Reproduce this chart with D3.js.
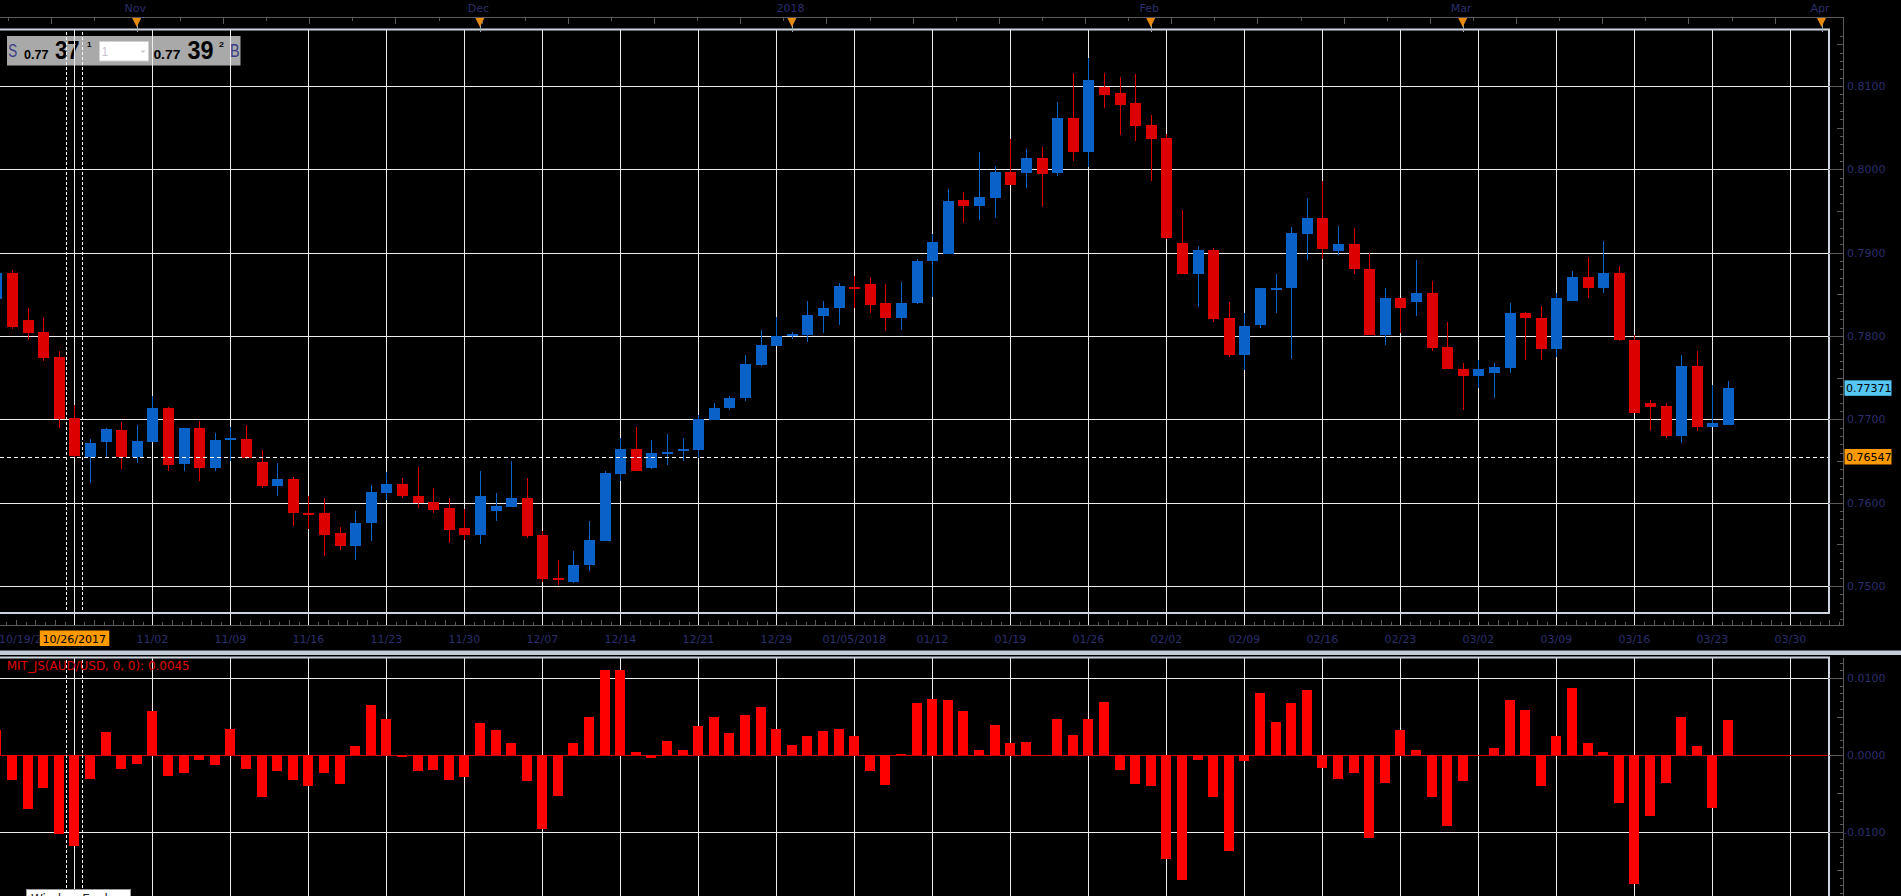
<!DOCTYPE html>
<html><head><meta charset="utf-8">
<script src="https://cdn.jsdelivr.net/npm/d3@7"></script>
<style>
html,body{margin:0;padding:0;background:#000;overflow:hidden}
svg{display:block}
</style></head><body>
<svg id="c" width="1901" height="896"></svg>
<script>
// ---------- DATA ----------
const dates = [
"10/19/2017","10/20/2017","10/23/2017","10/24/2017","10/25/2017","10/26/2017","10/27/2017","10/30/2017","10/31/2017",
"11/01/2017","11/02/2017","11/03/2017","11/06/2017","11/07/2017","11/08/2017","11/09/2017","11/10/2017","11/13/2017","11/14/2017","11/15/2017","11/16/2017","11/17/2017","11/20/2017","11/21/2017","11/22/2017","11/23/2017","11/24/2017","11/27/2017","11/28/2017","11/29/2017","11/30/2017",
"12/01/2017","12/04/2017","12/05/2017","12/06/2017","12/07/2017","12/08/2017","12/11/2017","12/12/2017","12/13/2017","12/14/2017","12/15/2017","12/18/2017","12/19/2017","12/20/2017","12/21/2017","12/22/2017","12/26/2017","12/27/2017","12/28/2017","12/29/2017",
"01/01/2018","01/02/2018","01/03/2018","01/04/2018","01/05/2018","01/08/2018","01/09/2018","01/10/2018","01/11/2018","01/12/2018","01/15/2018","01/16/2018","01/17/2018","01/18/2018","01/19/2018","01/22/2018","01/23/2018","01/24/2018","01/25/2018","01/26/2018","01/29/2018","01/30/2018","01/31/2018",
"02/01/2018","02/02/2018","02/05/2018","02/06/2018","02/07/2018","02/08/2018","02/09/2018","02/12/2018","02/13/2018","02/14/2018","02/15/2018","02/16/2018","02/19/2018","02/20/2018","02/21/2018","02/22/2018","02/23/2018","02/26/2018","02/27/2018","02/28/2018",
"03/01/2018","03/02/2018","03/05/2018","03/06/2018","03/07/2018","03/08/2018","03/09/2018","03/12/2018","03/13/2018","03/14/2018","03/15/2018","03/16/2018","03/19/2018","03/20/2018","03/21/2018","03/22/2018","03/23/2018","03/26/2018","03/27/2018","03/28/2018","03/29/2018","03/30/2018",
"04/02/2018","04/03/2018"];

const open = [
0.7844,0.7876,0.7819,0.7805,0.7775,0.7702,0.7655,0.7673,0.7687,0.7655,
0.7673,0.7713,0.7646,0.7690,0.7641,0.7675,0.7676,0.7649,0.7620,0.7628,
0.7588,0.7587,0.7564,0.7548,0.7575,0.7611,0.7622,0.7608,0.7601,0.7593,
0.7569,0.7561,0.7590,0.7595,0.7605,0.7561,0.7509,0.7505,0.7525,0.7554,
0.7634,0.7664,0.7642,0.7659,0.7662,0.7663,0.7699,0.7713,0.7725,0.7765,
0.7788,0.7800,0.7801,0.7824,0.7833,0.7859,0.7862,0.7839,0.7821,0.7839,
0.7890,0.7898,0.7963,0.7956,0.7965,0.7997,0.7996,0.8014,0.7995,0.8061,
0.8021,0.8099,0.8091,0.8079,0.8053,0.8038,0.7912,0.7874,0.7903,0.7821,
0.7777,0.7813,0.7856,0.7857,0.7922,0.7941,0.7902,0.7910,0.7880,0.7801,
0.7845,0.7841,0.7851,0.7787,0.7760,0.7752,0.7756,0.7762,0.7827,0.7822,
0.7784,0.7842,0.7871,0.7857,0.7876,0.7795,0.7719,0.7716,0.7680,0.7764,
0.7691,0.7693];
const high = [
0.7880,0.7879,0.7833,0.7823,0.7782,0.7717,0.7676,0.7690,0.7697,0.7693,
0.7728,0.7715,0.7690,0.7698,0.7683,0.7691,0.7693,0.7663,0.7648,0.7631,
0.7608,0.7605,0.7571,0.7590,0.7621,0.7637,0.7630,0.7643,0.7617,0.7606,
0.7592,0.7638,0.7611,0.7650,0.7630,0.7566,0.7531,0.7542,0.7578,0.7638,
0.7678,0.7691,0.7675,0.7682,0.7678,0.7705,0.7719,0.7728,0.7777,0.7807,
0.7823,0.7805,0.7842,0.7842,0.7863,0.7872,0.7871,0.7862,0.7865,0.7892,
0.7922,0.7976,0.7973,0.8021,0.8004,0.8036,0.8024,0.8027,0.8081,0.8115,
0.8134,0.8115,0.8111,0.8114,0.8065,0.8042,0.7951,0.7908,0.7906,0.7841,
0.7828,0.7857,0.7874,0.7931,0.7965,0.7986,0.7932,0.7930,0.7900,0.7857,
0.7845,0.7891,0.7866,0.7817,0.7768,0.7771,0.7768,0.7839,0.7829,0.7836,
0.7851,0.7878,0.7895,0.7914,0.7884,0.7801,0.7723,0.7719,0.7777,0.7782,
0.7741,0.7746];
const low = [
0.7838,0.7808,0.7795,0.7770,0.7690,0.7655,0.7623,0.7655,0.7640,0.7648,
0.7673,0.7638,0.7638,0.7626,0.7638,0.7650,0.7652,0.7617,0.7608,0.7572,
0.7568,0.7536,0.7543,0.7531,0.7554,0.7603,0.7605,0.7593,0.7588,0.7552,
0.7555,0.7550,0.7578,0.7595,0.7558,0.7505,0.7501,0.7504,0.7518,0.7554,
0.7626,0.7638,0.7640,0.7645,0.7650,0.7653,0.7699,0.7711,0.7722,0.7764,
0.7788,0.7796,0.7793,0.7804,0.7813,0.7833,0.7827,0.7806,0.7807,0.7838,
0.7847,0.7898,0.7936,0.7939,0.7941,0.7981,0.7977,0.7955,0.7992,0.8010,
0.8003,0.8073,0.8041,0.8034,0.7986,0.7916,0.7874,0.7835,0.7817,0.7775,
0.7759,0.7809,0.7827,0.7772,0.7891,0.7892,0.7897,0.7874,0.7801,0.7789,
0.7804,0.7824,0.7782,0.7760,0.7711,0.7737,0.7725,0.7756,0.7771,0.7771,
0.7775,0.7842,0.7845,0.7851,0.7794,0.7707,0.7686,0.7678,0.7672,0.7686,
0.7691,0.7693];
const close = [
0.7876,0.7811,0.7804,0.7774,0.7700,0.7656,0.7672,0.7688,0.7655,0.7674,
0.7713,0.7645,0.7690,0.7641,0.7675,0.7677,0.7654,0.7620,0.7628,0.7587,
0.7587,0.7561,0.7548,0.7576,0.7613,0.7622,0.7608,0.7599,0.7591,0.7567,
0.7561,0.7608,0.7596,0.7605,0.7560,0.7508,0.7508,0.7525,0.7555,0.7636,
0.7664,0.7638,0.7660,0.7661,0.7664,0.7700,0.7713,0.7725,0.7766,0.7789,
0.7800,0.7802,0.7825,0.7833,0.7860,0.7857,0.7837,0.7821,0.7839,0.7890,
0.7913,0.7962,0.7956,0.7967,0.7997,0.7981,0.8014,0.7994,0.8061,0.8021,
0.8107,0.8089,0.8077,0.8052,0.8036,0.7918,0.7874,0.7903,0.7820,0.7777,
0.7812,0.7857,0.7858,0.7924,0.7941,0.7904,0.7910,0.7880,0.7801,0.7845,
0.7833,0.7851,0.7786,0.7760,0.7752,0.7760,0.7763,0.7827,0.7821,0.7784,
0.7845,0.7871,0.7857,0.7876,0.7795,0.7707,0.7715,0.7680,0.7764,0.7691,
0.7695,0.7737];
const mit = [
0.0032,-0.0033,-0.0071,-0.0043,-0.0103,-0.0119,-0.0031,0.0030,-0.0018,-0.0012,
0.0057,-0.0028,-0.0023,-0.0006,-0.0013,0.0034,-0.0018,-0.0055,-0.0021,-0.0033,
-0.0041,-0.0024,-0.0038,0.0012,0.0065,0.0047,-0.0003,-0.0021,-0.0020,-0.0033,
-0.0029,0.0041,0.0033,0.0015,-0.0034,-0.0097,-0.0054,0.0016,0.0049,0.0111,
0.0110,0.0004,-0.0004,0.0018,0.0006,0.0038,0.0049,0.0028,0.0052,0.0063,
0.0034,0.0013,0.0025,0.0031,0.0034,0.0025,-0.0021,-0.0039,0.0001,0.0068,
0.0073,0.0072,0.0057,0.0006,0.0039,0.0015,0.0017,0.0000,0.0047,0.0026,
0.0047,0.0069,-0.0020,-0.0038,-0.0041,-0.0135,-0.0163,-0.0007,-0.0055,-0.0125,
-0.0008,0.0080,0.0043,0.0067,0.0084,-0.0017,-0.0031,-0.0023,-0.0108,-0.0036,
0.0033,0.0007,-0.0055,-0.0092,-0.0034,0.0000,0.0009,0.0071,0.0059,-0.0041,
0.0024,0.0087,0.0015,0.0004,-0.0062,-0.0168,-0.0080,-0.0036,0.0049,0.0011,
-0.0069,0.0045];

const tickDates = ["10/19/2017","10/26/2017","11/02/2017","11/09/2017","11/16/2017","11/23/2017","11/30/2017","12/07/2017","12/14/2017","12/21/2017","12/29/2017","01/05/2018","01/12/2018","01/19/2018","01/26/2018","02/02/2018","02/09/2018","02/16/2018","02/23/2018","03/02/2018","03/09/2018","03/16/2018","03/23/2018","03/30/2018"];
const tickLabels = ["10/19/2017","10/26","11/02","11/09","11/16","11/23","11/30","12/07","12/14","12/21","12/29","01/05/2018","01/12","01/19","01/26","02/02","02/09","02/16","02/23","03/02","03/09","03/16","03/23","03/30"];
const monthDates = ["11/01/2017","12/01/2017","01/01/2018","02/01/2018","03/01/2018","04/03/2018"];
const monthLabels = ["Nov","Dec","2018","Feb","Mar","Apr"];
const priceTicks = [0.75,0.76,0.77,0.78,0.79,0.80,0.81];
const mitTicks = [-0.01,0,0.01];
const lastQuote = 0.77371;
const crossQuote = 0.76547;
const crossDate = "10/26/2017";
const indicatorName = "MIT_JS(AUD/USD, 0, 0)";

// ---------- LAYOUT ----------
const W = 1901, H = 896;
const R = 1829, TOP = 29.5, BOT = 613, AX = 1843.5, RUL_T = 17.5, RUL_B = 625.5, LTOP = 657.5;
const FONT = "DejaVu Sans, Verdana, sans-serif";
const NAVY = "#2c2e6c", GRID = "#ececec", FRAME = "#cdd4de", AXC = "#5a5a5a";
const RED = "#dc0000", BLUE = "#0a62c8", BAR = "#ff0000";

const svg = d3.select("#c");
const x = d3.scalePoint().domain(dates).range([-3.7, 1821.5]);
const y = d3.scaleLinear().domain([0.75, 0.81]).range([585.9, 85.9]);
const y2 = d3.scaleLinear().domain([-0.01, 0.01]).range([831.7, 678.1]);
const px = v => Math.round(v) + 0.5;
const cx = x(crossDate);

svg.append("rect").attr("width", W).attr("height", H).attr("fill", "#000");

const defs = svg.append("defs");
defs.append("clipPath").attr("id", "cm").append("rect").attr("x", 0).attr("y", TOP + 1).attr("width", R - 1).attr("height", BOT - TOP - 2);
defs.append("clipPath").attr("id", "cl").append("rect").attr("x", 0).attr("y", LTOP + 1).attr("width", R - 1).attr("height", H - LTOP);
defs.append("clipPath").attr("id", "cfirst").append("rect").attr("x", 0).attr("y", 626).attr("width", cx - 35).attr("height", 24);

// ---------- quote box ----------
const qb = svg.append("g");
qb.append("rect").attr("x", 7).attr("y", 36).attr("width", 233.5).attr("height", 29.5).attr("fill", "#a9a9a9");
function qt(t, xx, yy, size, opts) {
  const e = qb.append("text").attr("x", xx).attr("y", yy).text(t)
    .attr("font-family", opts.family || "Liberation Sans, Arial, sans-serif")
    .attr("font-size", size).attr("font-weight", opts.bold ? "bold" : "normal")
    .attr("fill", opts.fill || "#000");
  if (opts.len) e.attr("textLength", opts.len).attr("lengthAdjust", "spacingAndGlyphs");
  return e;
}
qt("S", 8.3, 56.5, 18, {fill: "#3b3c86", len: 9});
qt("0.77", 24, 59.3, 13, {bold: true, len: 24.5});
qt("37", 55, 59.3, 26, {bold: true, len: 24.6});
qt("1", 87, 47, 8, {bold: true, len: 4.5});
qb.append("rect").attr("x", 99.5).attr("y", 41.5).attr("width", 49).attr("height", 19.5).attr("fill", "#fff").attr("stroke", "#d0d0d0");
qt("1", 101.5, 56, 12, {fill: "#cbc3d3"});
qb.append("path").attr("d", "M140.5,50.5 L145.5,50.5 L143,53 Z").attr("fill", "#c8c8c8");
qt("0.77", 153.4, 59.3, 13, {bold: true, len: 27});
qt("39", 187.4, 59.3, 26, {bold: true, len: 26});
qt("2", 219, 47, 8, {bold: true, len: 5});
qt("B", 230, 56.5, 18, {fill: "#3b3c86", len: 9.6});

// ---------- gridlines ----------
const grid = svg.append("g").attr("shape-rendering", "crispEdges");
grid.selectAll(".hg").data(priceTicks).join("line")
  .attr("x1", 0).attr("x2", R).attr("y1", d => px(y(d))).attr("y2", d => px(y(d)))
  .attr("stroke", GRID).attr("stroke-width", 1);
grid.selectAll(".vg").data(tickDates).join("line")
  .attr("x1", d => px(x(d))).attr("x2", d => px(x(d))).attr("y1", TOP).attr("y2", RUL_B)
  .attr("stroke", GRID).attr("stroke-width", 1);
grid.selectAll(".hg2").data(mitTicks.filter(d => d !== 0)).join("line")
  .attr("x1", 0).attr("x2", R).attr("y1", d => px(y2(d))).attr("y2", d => px(y2(d)))
  .attr("stroke", GRID).attr("stroke-width", 1);
grid.selectAll(".vg2").data(tickDates).join("line")
  .attr("x1", d => px(x(d))).attr("x2", d => px(x(d))).attr("y1", LTOP).attr("y2", H)
  .attr("stroke", GRID).attr("stroke-width", 1);
grid.append("line").attr("x1", 0).attr("x2", R).attr("y1", px(y2(0))).attr("y2", px(y2(0)))
  .attr("stroke", "#d00000").attr("stroke-width", 1);

// ---------- candles ----------
const cData = open.map((o, i) => ({d: dates[i], o, h: high[i], l: low[i], c: close[i]}));
const cg = svg.append("g").attr("clip-path", "url(#cm)").attr("shape-rendering", "crispEdges");
const col = d => d.c >= d.o ? BLUE : RED;
cg.selectAll(".wick").data(cData).join("line")
  .attr("x1", d => px(x(d.d))).attr("x2", d => px(x(d.d)))
  .attr("y1", d => y(d.h)).attr("y2", d => y(d.l))
  .attr("stroke", col).attr("stroke-width", 1);
cg.selectAll(".body").data(cData).join("rect")
  .attr("x", d => Math.round(x(d.d)) - 5).attr("width", 11)
  .attr("y", d => Math.min(y(d.o), y(d.c)))
  .attr("height", d => Math.max(2, Math.abs(y(d.o) - y(d.c))))
  .attr("fill", col);

// ---------- indicator bars ----------
const bData = mit.map((v, i) => ({d: dates[i], v}));
const bg = svg.append("g").attr("clip-path", "url(#cl)").attr("shape-rendering", "crispEdges");
bg.selectAll("rect").data(bData).join("rect")
  .attr("x", d => Math.round(x(d.d)) - 5).attr("width", 10)
  .attr("y", d => Math.min(y2(0), y2(d.v)))
  .attr("height", d => Math.abs(y2(d.v) - y2(0)))
  .attr("fill", BAR);

// ---------- crosshair ----------
const ch = svg.append("g").attr("shape-rendering", "crispEdges");
[-8, 8].forEach(o => {
  ch.append("line").attr("x1", px(cx + o)).attr("x2", px(cx + o)).attr("y1", TOP + 2).attr("y2", BOT)
    .attr("stroke", "#fff").attr("stroke-dasharray", "3,2");
  ch.append("line").attr("x1", px(cx + o)).attr("x2", px(cx + o)).attr("y1", LTOP + 2).attr("y2", H)
    .attr("stroke", "#fff").attr("stroke-dasharray", "3,2");
});
ch.append("line").attr("x1", 0).attr("x2", R).attr("y1", px(y(crossQuote))).attr("y2", px(y(crossQuote)))
  .attr("stroke", "#fff").attr("stroke-dasharray", "4,3");

// ---------- frames ----------
const fr = svg.append("g").attr("fill", "none").attr("stroke", FRAME).attr("stroke-width", 2);
fr.append("path").attr("d", `M0,${TOP} H${R} V${BOT} H0`);
fr.append("path").attr("d", `M0,${LTOP} H${R} V${H}`);
svg.append("rect").attr("x", 0).attr("y", 650.5).attr("width", W).attr("height", 4.5).attr("fill", "#c3cbd6");

// ---------- rulers ----------
const ax = svg.append("g").attr("shape-rendering", "crispEdges");
ax.append("path").attr("d", `M0,${RUL_T} H${AX} V${RUL_B} H0`).attr("fill", "none").attr("stroke", AXC);
ax.append("line").attr("x1", AX).attr("x2", AX).attr("y1", LTOP).attr("y2", H).attr("stroke", AXC);

// top ruler ticks
const topTicks = d3.range(0, 43).map(j => ({j, xx: 7.5 + 43.1 * j})).filter(t => t.xx < AX);
ax.selectAll(".tt").data(topTicks).join("line")
  .attr("x1", t => px(t.xx)).attr("x2", t => px(t.xx)).attr("y1", RUL_T)
  .attr("y2", t => RUL_T + (t.j % 2 ? 6 : 3)).attr("stroke", AXC);

// month markers
const mk = svg.append("g");
monthDates.forEach((d, i) => {
  const mx = x(d);
  mk.append("line").attr("x1", px(mx)).attr("x2", px(mx)).attr("y1", 18).attr("y2", 32).attr("stroke", "#9aa3b0");
  mk.append("path").attr("d", `M${mx - 4.5},18 L${mx + 4.5},18 L${mx + 2},23 L${mx},27 L${mx - 2},23 Z`).attr("fill", "#e58a0c");
  mk.append("text").attr("x", mx - 1.5).attr("y", 12).attr("text-anchor", "middle")
    .attr("font-family", FONT).attr("font-size", 11).attr("fill", NAVY).text(monthLabels[i]);
});

// date ruler minor ticks
const tickX = tickDates.map(d => x(d));
const minor = [];
tickX.forEach((t, i) => {
  const step = (i < tickX.length - 1 ? tickX[i + 1] - t : tickX[i] - tickX[i - 1]) / 8;
  for (let s = 1; s < 8; s++) { const v = t + s * step; if (v > 0 && v < AX - 2) minor.push({v, s}); }
});
ax.selectAll(".mt").data(minor).join("line")
  .attr("x1", m => px(m.v)).attr("x2", m => px(m.v)).attr("y1", RUL_B)
  .attr("y2", m => RUL_B - (m.s % 2 ? 4 : 6)).attr("stroke", AXC);

// date labels (the crosshair date label replaces the regular one at its position)
const lab = tickDates.map((d, i) => ({d, t: tickLabels[i], i})).filter(o => o.d !== crossDate);
svg.selectAll(".dl").data(lab).join("text")
  .attr("x", o => o.i === 0 ? -1 : x(o.d)).attr("y", 643)
  .attr("text-anchor", o => o.i === 0 ? "start" : "middle")
  .attr("clip-path", o => o.i === 0 ? "url(#cfirst)" : null)
  .attr("font-family", FONT).attr("font-size", 11).attr("fill", NAVY)
  .text(o => o.t);
svg.append("rect").attr("x", cx - 34.5).attr("y", 630.5).attr("width", 69.5).attr("height", 15.5).attr("fill", "#ff9a00");
svg.append("text").attr("x", cx).attr("y", 642.5).attr("text-anchor", "middle")
  .attr("font-family", FONT).attr("font-size", 11).attr("fill", "#000").text(crossDate);

// price axis ticks
const pMinor = d3.range(746, 817).map(k => ({k, v: k / 1000}));
ax.selectAll(".pt").data(pMinor).join("line")
  .attr("x1", d => d.k % 10 === 0 ? R : (d.k % 5 === 0 ? AX - 7 : AX - 4)).attr("x2", AX)
  .attr("y1", d => px(y(d.v))).attr("y2", d => px(y(d.v))).attr("stroke", AXC);
svg.selectAll(".pl").data(priceTicks).join("text")
  .attr("x", 1847).attr("y", d => y(d) + 4)
  .attr("font-family", FONT).attr("font-size", 11).attr("fill", NAVY)
  .text(d => d3.format(".4f")(d));

// indicator axis ticks
const iMinor = d3.range(-18, 14).map(k => ({k, v: k / 1000}));
ax.selectAll(".it").data(iMinor).join("line")
  .attr("x1", d => d.k % 10 === 0 ? R : (d.k % 5 === 0 ? AX - 7 : AX - 4)).attr("x2", AX)
  .attr("y1", d => px(y2(d.v))).attr("y2", d => px(y2(d.v))).attr("stroke", AXC)
  .attr("display", d => y2(d.v) > LTOP + 2 ? null : "none");
svg.selectAll(".il").data(mitTicks).join("text")
  .attr("x", d => d < 0 ? 1843 : 1847).attr("y", d => y2(d) + 4)
  .attr("font-family", FONT).attr("font-size", 11).attr("fill", NAVY)
  .text(d => d3.format(".4f")(d).replace("\u2212", "-"));

// price highlight boxes
function tag(v, fill) {
  const yy = y(v);
  svg.append("rect").attr("x", 1844.5).attr("y", yy - 8).attr("width", 47).attr("height", 15.5).attr("fill", fill);
  svg.append("text").attr("x", 1846).attr("y", yy + 4).attr("font-family", FONT).attr("font-size", 11)
    .attr("fill", "#000").text(d3.format(".5f")(v));
}
tag(lastQuote, "#56c6f3");
tag(crossQuote, "#ff9a00");

// indicator title
svg.append("text").attr("x", 6.7).attr("y", 670).attr("font-family", FONT).attr("font-size", 11.5)
  .attr("fill", "#e00000").attr("textLength", 183).attr("lengthAdjust", "spacingAndGlyphs")
  .text(indicatorName + ": " + d3.format(".4f")(mit[mit.length - 1]));

// window explorer tab (cut off at bottom, as in the source)
svg.append("rect").attr("x", 26.5).attr("y", 889.5).attr("width", 104).attr("height", 14).attr("fill", "#fff").attr("stroke", "#9a9a9a");
svg.append("text").attr("x", 31).attr("y", 903).attr("font-family", FONT).attr("font-size", 12).attr("fill", "#222").text("Window Explorer");
</script>
</body></html>
